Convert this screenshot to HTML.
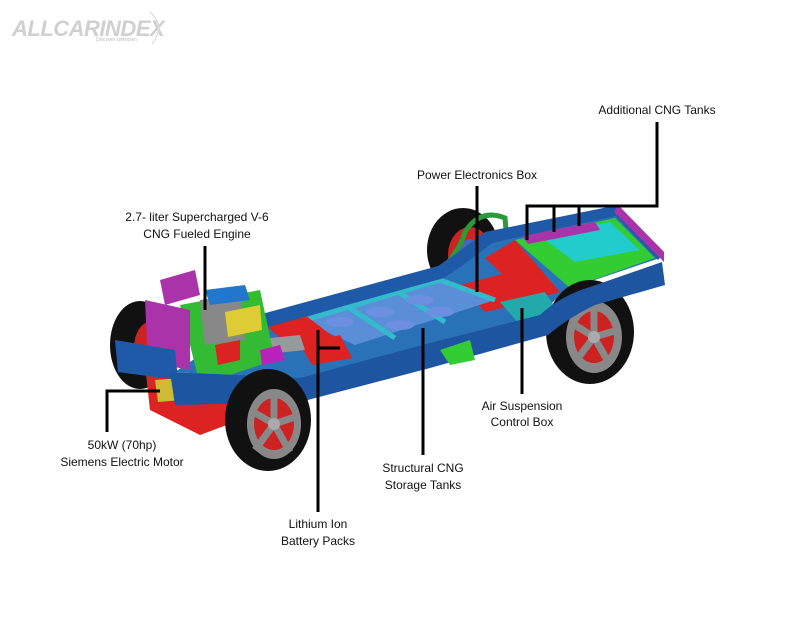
<!DOCTYPE html>
<html><head><meta charset="utf-8"><style>
html,body{margin:0;padding:0;background:#fff;}
svg{display:block;}
text{font-family:"Liberation Sans",sans-serif;font-size:12px;fill:#111;}
</style></head><body>
<svg width="800" height="640" viewBox="0 0 800 640" xmlns="http://www.w3.org/2000/svg">
<!-- logo -->
<text x="12" y="36" style="font-size:22px;font-style:italic;font-weight:bold;fill:#d0d0d0;letter-spacing:-0.5px">ALLCARINDEX</text>
<text x="96" y="41" style="font-size:5px;font-style:italic;fill:#bbb">Discover unknown</text>
<path d="M150 12 Q166 26 152 44" stroke="#ddd" stroke-width="1.2" fill="none"/>

<!-- back wheel -->
<ellipse cx="463" cy="250" rx="36" ry="42" fill="#111"/>
<ellipse cx="470" cy="255" rx="22" ry="28" fill="#c22"/>
<ellipse cx="470" cy="255" rx="12" ry="16" fill="#46b"/>
<!-- left back wheel -->
<ellipse cx="140" cy="345" rx="30" ry="44" fill="#111"/>
<ellipse cx="150" cy="348" rx="16" ry="26" fill="#c22"/>

<!-- green pipe -->
<path d="M300 318 Q400 300 440 272 Q460 250 465 232 Q480 208 505 218 L506 230" stroke="#2a9a3a" stroke-width="5" fill="none"/>

<!-- floor base -->
<polygon points="245,325 440,272 500,238 620,210 660,258 565,290 540,315 430,345 300,380 175,372" fill="#2a72b8"/>
<!-- rear bay -->
<polygon points="515,240 615,218 655,258 570,288" fill="#3c3"/>
<polygon points="540,236 610,222 640,250 575,262" fill="#2cc"/>
<polygon points="522,236 595,222 600,230 528,244" fill="#a3a"/>
<polygon points="485,258 515,240 560,292 530,300" fill="#d22"/>
<polygon points="460,285 510,272 535,300 485,312" fill="#d22"/>
<polygon points="500,302 545,292 560,315 520,325" fill="#2aa"/>
<!-- central floor -->
<polygon points="300,320 440,280 495,300 355,345" fill="#5a8fd8"/>
<g stroke="#3bc" stroke-width="5">
<line x1="298" y1="322" x2="440" y2="280"/>
<line x1="345" y1="305" x2="395" y2="338"/>
<line x1="395" y1="290" x2="445" y2="322"/>
<line x1="440" y1="280" x2="495" y2="300"/>
</g>
<g fill="#6c8fe0"><ellipse cx="340" cy="322" rx="14" ry="5"/><ellipse cx="380" cy="312" rx="14" ry="5"/><ellipse cx="420" cy="300" rx="14" ry="5"/><ellipse cx="400" cy="325" rx="14" ry="5"/><ellipse cx="440" cy="312" rx="14" ry="5"/></g>
<!-- battery red -->
<polygon points="265,325 305,315 335,338 295,350" fill="#d22"/>
<polygon points="300,345 340,335 352,358 312,365" fill="#d22"/>
<polygon points="250,340 300,335 305,350 258,355" fill="#999"/>

<!-- upper rail -->
<path d="M240 320 L438 266 Q462 250 485 232 L618 205 L664 252 L658 260 L616 216 L492 243 Q468 262 444 278 L250 332 Z" fill="#1f5aa8"/>
<polygon points="618,205 664,252 664,262 614,212" fill="#a3a"/>

<!-- right wheel -->
<ellipse cx="590" cy="332" rx="44" ry="52" fill="#111"/>
<ellipse cx="594" cy="337" rx="28" ry="36" fill="#888"/>
<ellipse cx="594" cy="337" rx="20" ry="26" fill="#c22"/>
<g stroke="#888" stroke-width="7"><line x1="594" y1="337" x2="594" y2="305"/><line x1="594" y1="337" x2="618" y2="330"/><line x1="594" y1="337" x2="610" y2="365"/><line x1="594" y1="337" x2="575" y2="362"/><line x1="594" y1="337" x2="570" y2="322"/></g>
<circle cx="594" cy="337" r="6" fill="#aaa"/>

<!-- engine bay -->
<polygon points="160,280 195,270 200,295 165,305" fill="#a3a"/>
<polygon points="180,305 260,290 275,360 200,385" fill="#3b3"/>
<polygon points="200,300 240,295 245,340 205,345" fill="#888"/>
<polygon points="225,312 260,305 262,330 228,337" fill="#dc3"/>
<polygon points="205,290 245,285 250,300 210,305" fill="#27c"/>
<polygon points="260,350 280,345 285,360 262,365" fill="#b2b"/>
<polygon points="215,345 240,340 240,360 218,365" fill="#d22"/>
<!-- motor/red lower -->
<polygon points="145,365 235,385 240,420 200,435 150,410" fill="#d22"/>
<polygon points="155,380 180,378 182,400 158,402" fill="#cb3"/>
<!-- magenta radiator -->
<polygon points="145,300 190,310 190,370 148,362" fill="#a3a"/>
<!-- front beam -->
<polygon points="115,340 175,350 178,380 118,372" fill="#1f5aa8"/>
<!-- lower rail -->
<path d="M170 372 L300 378 L430 343 L540 315 Q560 296 590 287 L662 262 L665 285 L595 305 Q568 318 548 335 L430 368 L300 402 L175 405 Z" fill="#1d55a0"/>
<polygon points="440,350 470,340 475,360 450,365" fill="#3c3"/>

<!-- front wheel -->
<ellipse cx="268" cy="420" rx="43" ry="51" fill="#111"/>
<ellipse cx="274" cy="424" rx="27" ry="35" fill="#888"/>
<ellipse cx="274" cy="424" rx="20" ry="26" fill="#c22"/>
<g stroke="#888" stroke-width="7"><line x1="274" y1="424" x2="274" y2="392"/><line x1="274" y1="424" x2="298" y2="416"/><line x1="274" y1="424" x2="290" y2="452"/><line x1="274" y1="424" x2="255" y2="450"/><line x1="274" y1="424" x2="250" y2="410"/></g>
<circle cx="274" cy="424" r="6" fill="#aaa"/>

<!-- leader lines -->
<g stroke="#000" stroke-width="3" fill="none">
<path d="M657 122 V206 H527 V240"/>
<path d="M554 206 V232"/>
<path d="M579 206 V226"/>
<path d="M477 186 V292"/>
<path d="M205 246 V310"/>
<path d="M107 432 V391 H160"/>
<path d="M318 512 V330 M318 348 H340"/>
<path d="M423 455 V328"/>
<path d="M522 394 V308"/>
</g>

<!-- labels -->
<g text-anchor="middle">
<text x="657" y="114">Additional CNG Tanks</text>
<text x="477" y="179">Power Electronics Box</text>
<text x="197" y="221">2.7- liter Supercharged V-6</text>
<text x="197" y="238">CNG Fueled Engine</text>
<text x="122" y="449">50kW (70hp)</text>
<text x="122" y="466">Siemens Electric Motor</text>
<text x="318" y="528">Lithium Ion</text>
<text x="318" y="545">Battery Packs</text>
<text x="423" y="472">Structural CNG</text>
<text x="423" y="489">Storage Tanks</text>
<text x="522" y="410">Air Suspension</text>
<text x="522" y="426">Control Box</text>
</g>
</svg>
</body></html>
